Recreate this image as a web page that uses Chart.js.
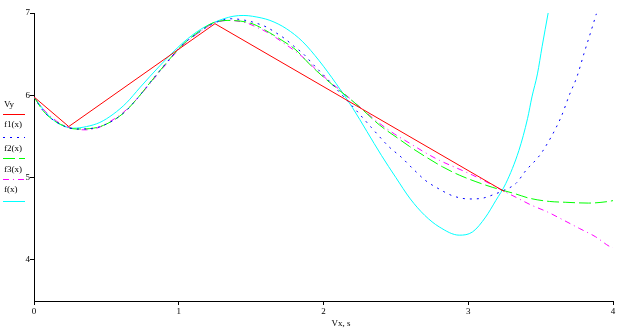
<!DOCTYPE html>
<html>
<head>
<meta charset="utf-8">
<script src="https://cdn.jsdelivr.net/npm/chart.js@4/dist/chart.umd.min.js"></script>
<style>
  html, body { margin: 0; padding: 0; background: #ffffff; }
  #wrap { width: 624px; height: 334px; }
</style>
</head>
<body>
<div id="wrap"><canvas id="c" width="624" height="334"></canvas></div>
<script>
// Axis ticks
const xTicks = [0, 1, 2, 3, 4];
const yTicks = [4, 5, 6, 7];

// Measured points Vy
const vyX = [0, 0.24, 1.25, 3.25];
const vyY = [5.98, 5.62, 6.87, 4.83];

// f1(x)
const f1X = [0, 0.064, 0.15, 0.294, 0.41, 0.5, 0.616, 0.708, 0.8, 0.87, 1.03, 1.145, 1.225, 1.363, 1.43, 1.51, 1.605, 1.662, 1.731, 1.8, 1.857, 1.926, 2.02, 2.088, 2.214, 2.33, 2.455, 2.536, 2.616, 2.708, 2.8, 2.89, 3.007, 3.1, 3.17, 3.24, 3.33, 3.4, 3.47, 3.51, 3.64, 3.7, 3.75, 3.8, 3.85, 3.885];
const f1Y = [5.98, 5.81, 5.68, 5.59, 5.6, 5.65, 5.78, 5.95, 6.15, 6.3, 6.62, 6.77, 6.86, 6.93, 6.92, 6.89, 6.83, 6.77, 6.69, 6.59, 6.51, 6.38, 6.21, 6.08, 5.84, 5.61, 5.37, 5.25, 5.11, 4.96, 4.86, 4.78, 4.74, 4.75, 4.79, 4.84, 4.93, 5.09, 5.22, 5.31, 5.73, 6.01, 6.22, 6.51, 6.79, 6.99];

// f2(x)
const f2X = [0, 0.064, 0.15, 0.294, 0.41, 0.5, 0.616, 0.708, 0.8, 0.87, 1.03, 1.145, 1.237, 1.34, 1.467, 1.535, 1.628, 1.72, 1.81, 1.88, 1.95, 2.04, 2.11, 2.248, 2.386, 2.52, 2.593, 2.708, 2.823, 2.938, 3.053, 3.17, 3.33, 3.42, 3.56, 3.67, 3.83, 3.97, 4.0];
const f2Y = [5.98, 5.81, 5.68, 5.59, 5.6, 5.65, 5.78, 5.95, 6.15, 6.3, 6.62, 6.78, 6.88, 6.91, 6.89, 6.85, 6.76, 6.66, 6.55, 6.42, 6.3, 6.16, 6.06, 5.86, 5.64, 5.47, 5.38, 5.25, 5.13, 5.03, 4.95, 4.88, 4.8, 4.75, 4.71, 4.7, 4.69, 4.71, 4.72];

// f3(x)
const f3X = [0, 0.08, 0.2, 0.35, 0.45, 0.524, 0.616, 0.708, 0.8, 0.87, 1.03, 1.145, 1.237, 1.34, 1.467, 1.535, 1.628, 1.72, 1.81, 1.88, 1.95, 2.04, 2.11, 2.295, 2.386, 2.49, 2.593, 2.696, 2.8, 2.915, 3.03, 3.145, 3.24, 3.33, 3.43, 3.55, 3.65, 3.77, 3.88, 3.98, 4.0];
const f3Y = [5.98, 5.8, 5.64, 5.58, 5.61, 5.68, 5.79, 5.95, 6.14, 6.29, 6.61, 6.77, 6.87, 6.91, 6.88, 6.83, 6.75, 6.64, 6.53, 6.43, 6.31, 6.17, 6.07, 5.79, 5.66, 5.53, 5.42, 5.31, 5.21, 5.12, 5.03, 4.93, 4.84, 4.76, 4.67, 4.58, 4.49, 4.38, 4.28, 4.16, 4.15];

// f(x)
const fX = [0, 0.064, 0.133, 0.2, 0.27, 0.363, 0.455, 0.547, 0.64, 0.73, 0.87, 1.03, 1.15, 1.25, 1.375, 1.45, 1.51, 1.63, 1.743, 1.857, 1.97, 2.088, 2.2, 2.3, 2.4, 2.5, 2.6, 2.7, 2.8, 2.938, 3.03, 3.12, 3.19, 3.26, 3.35, 3.41, 3.44, 3.478, 3.51, 3.552];
const fY = [5.98, 5.83, 5.7, 5.63, 5.6, 5.62, 5.67, 5.77, 5.91, 6.09, 6.36, 6.64, 6.8, 6.89, 6.96, 6.97, 6.96, 6.91, 6.81, 6.65, 6.42, 6.14, 5.85, 5.56, 5.27, 5.0, 4.74, 4.54, 4.4, 4.3, 4.34, 4.52, 4.72, 4.93, 5.33, 5.72, 5.98, 6.26, 6.59, 7.0];

const legendLabels = ['Vy', 'f1(x)', 'f2(x)', 'f3(x)', 'f(x)'];
const axisTitle = 'Vx, s';

const pts = (xs, ys) => xs.map((x, i) => ({ x: x, y: ys[i] }));

const FONT = '"Liberation Serif", "DejaVu Serif", serif';

const series = [
  { label: legendLabels[0], data: pts(vyX, vyY), color: '#ff0000', dash: [], smooth: false },
  { label: legendLabels[1], data: pts(f1X, f1Y), color: '#0000ff', dash: [2, 5], smooth: true },
  { label: legendLabels[2], data: pts(f2X, f2Y), color: '#00ff00', dash: [12, 4], smooth: true },
  { label: legendLabels[3], data: pts(f3X, f3Y), color: '#ff00ff', dash: [6, 4, 1, 4], smooth: true },
  { label: legendLabels[4], data: pts(fX, fY), color: '#00ffff', dash: [], smooth: true }
];

// Hand-placed legend column and axis caption
const sideLegend = {
  id: 'sideLegend',
  afterDraw(chart) {
    const ctx = chart.ctx;
    const textY = [105, 124.5, 149, 169.5, 189.5];
    const lineY = [114, 137, 158, 179, 201];
    ctx.save();
    ctx.font = '9px ' + FONT;
    ctx.textBaseline = 'middle';
    ctx.textAlign = 'left';
    series.forEach((s, i) => {
      ctx.fillStyle = '#000000';
      ctx.fillText(s.label, 4, textY[i]);
      ctx.beginPath();
      ctx.setLineDash(s.dash);
      ctx.strokeStyle = s.color;
      ctx.lineWidth = 1;
      ctx.moveTo(3, lineY[i] + 0.5);
      ctx.lineTo(25, lineY[i] + 0.5);
      ctx.stroke();
    });
    ctx.setLineDash([]);
    ctx.fillStyle = '#000000';
    ctx.textAlign = 'center';
    ctx.fillText(axisTitle, 341, 324);
    ctx.restore();
  }
};

new Chart(document.getElementById('c'), {
  type: 'line',
  data: {
    datasets: series.map(s => ({
      label: s.label,
      data: s.data,
      borderColor: s.color,
      backgroundColor: s.color,
      borderWidth: 1,
      borderDash: s.dash,
      pointRadius: 0,
      fill: false,
      tension: s.smooth ? 0.4 : 0,
      cubicInterpolationMode: s.smooth ? 'monotone' : 'default'
    }))
  },
  options: {
    responsive: false,
    animation: false,
    parsing: true,
    layout: { padding: { top: 13, right: 11, left: 0, bottom: 0 } },
    plugins: { legend: { display: false }, tooltip: { enabled: false } },
    scales: {
      x: {
        type: 'linear',
        min: 0,
        max: 4,
        afterBuildTicks(scale) { scale.ticks = xTicks.map(v => ({ value: v })); },
        afterFit(scale) { scale.height = 33; },
        grid: { display: true, drawOnChartArea: false, drawTicks: true, tickLength: 4, color: '#000000' },
        border: { display: true, color: '#000000', width: 1 },
        ticks: { color: '#000000', font: { family: FONT, size: 9 }, padding: 1, maxRotation: 0 }
      },
      y: {
        type: 'linear',
        min: 3.5,
        max: 7,
        afterBuildTicks(scale) { scale.ticks = yTicks.map(v => ({ value: v })); },
        afterFit(scale) { scale.width = 34; },
        grid: { display: true, drawOnChartArea: false, drawTicks: true, tickLength: 4, color: '#000000' },
        border: { display: true, color: '#000000', width: 1 },
        ticks: { color: '#000000', font: { family: FONT, size: 9 }, padding: 0 }
      }
    }
  },
  plugins: [sideLegend]
});
</script>
</body>
</html>
